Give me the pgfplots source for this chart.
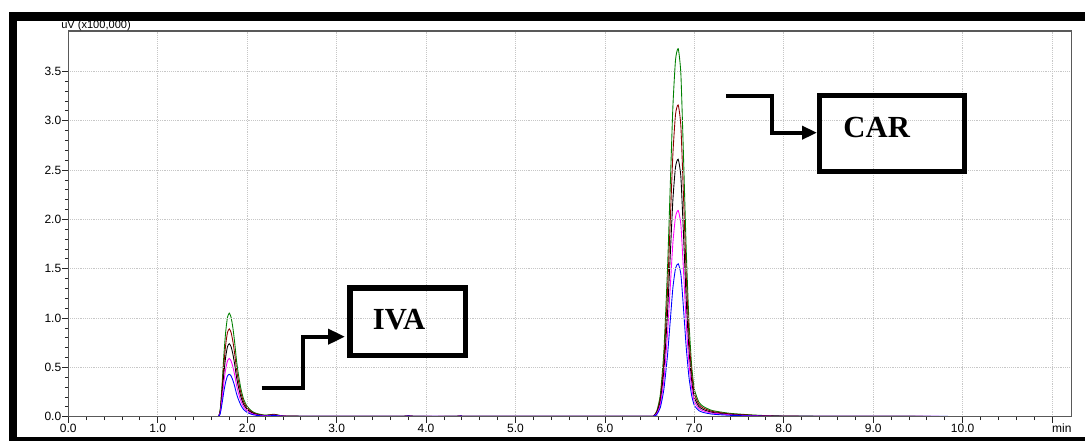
\documentclass[border=0pt]{standalone}
\usepackage{pgfplots}
\pgfplotsset{compat=1.18}
\usepackage{pgfplotstable}
\usepackage{fontspec}
\setmainfont{Liberation Sans}
\newfontfamily\serifbold{Liberation Serif}
\usetikzlibrary{arrows.meta}

\definecolor{trgreen}{RGB}{0,128,0}
\definecolor{trred}{RGB}{140,0,0}
\definecolor{trmag}{RGB}{255,0,255}
\definecolor{trblue}{RGB}{0,0,255}

% chromatogram traces, 5 concentrations (uV x100,000)
\pgfplotstableread{
t     g     r     k     m     b
0.00  0.002 0.002 0.002 0.002 0.002
1.60  0.002 0.002 0.002 0.002 0.002
1.68  0.004 0.004 0.004 0.004 0.004
1.70  0.084 0.071 0.059 0.047 0.034
1.72  0.336 0.285 0.237 0.189 0.138
1.74  0.630 0.534 0.444 0.354 0.258
1.76  0.861 0.730 0.607 0.484 0.353
1.78  1.008 0.854 0.710 0.566 0.413
1.80  1.050 0.890 0.740 0.590 0.430
1.82  1.008 0.854 0.710 0.566 0.413
1.84  0.903 0.765 0.636 0.507 0.370
1.86  0.756 0.641 0.533 0.425 0.310
1.88  0.578 0.490 0.407 0.325 0.237
1.90  0.441 0.374 0.311 0.248 0.181
1.93  0.284 0.240 0.200 0.159 0.116
1.96  0.179 0.151 0.126 0.100 0.073
2.00  0.105 0.089 0.074 0.059 0.043
2.05  0.058 0.049 0.041 0.032 0.024
2.10  0.034 0.028 0.024 0.019 0.014
2.20  0.016 0.013 0.011 0.009 0.006
2.30  0.024 0.022 0.019 0.016 0.012
2.40  0.008 0.007 0.006 0.006 0.005
2.60  0.005 0.005 0.004 0.004 0.004
3.00  0.003 0.003 0.003 0.003 0.003
3.70  0.003 0.003 0.003 0.003 0.003
3.80  0.009 0.008 0.008 0.007 0.006
3.90  0.003 0.003 0.003 0.003 0.003
4.30  0.003 0.003 0.003 0.003 0.003
4.40  0.009 0.008 0.007 0.007 0.006
4.50  0.003 0.003 0.003 0.003 0.003
6.50  0.003 0.003 0.003 0.003 0.003
6.54  0.004 0.004 0.004 0.004 0.004
6.58  0.056 0.047 0.039 0.031 0.023
6.62  0.224 0.190 0.157 0.125 0.093
6.66  0.671 0.569 0.470 0.376 0.279
6.70  1.492 1.264 1.044 0.836 0.620
6.73  2.313 1.959 1.618 1.296 0.961
6.76  3.133 2.654 2.192 1.756 1.302
6.79  3.618 3.065 2.532 2.027 1.504
6.82  3.730 3.160 2.610 2.090 1.550
6.85  3.469 2.939 2.427 1.944 1.442
6.88  2.611 2.212 1.827 1.463 1.085
6.91  1.679 1.422 1.175 0.941 0.698
6.94  0.970 0.822 0.679 0.543 0.403
6.97  0.522 0.442 0.365 0.293 0.217
7.00  0.280 0.237 0.196 0.157 0.116
7.05  0.149 0.126 0.104 0.084 0.062
7.10  0.104 0.088 0.073 0.059 0.043
7.20  0.063 0.054 0.044 0.036 0.026
7.40  0.034 0.028 0.023 0.019 0.014
7.70  0.015 0.013 0.010 0.008 0.006
8.00  0.007 0.006 0.005 0.004 0.003
9.00  0.003 0.003 0.003 0.003 0.003
11.22 0.002 0.002 0.002 0.002 0.002
}\chrom

\begin{document}
\begin{tikzpicture}
\useasboundingbox (0,0) rectangle (813.75pt,330.75pt);

\begin{axis}[
    name=ax,
    at={(51.225pt,18.225pt)}, anchor=south west,
    scale only axis,
    width=752.55pt, height=289.3pt,
    xmin=0, xmax=11.22, ymin=0, ymax=3.91,
    xtick={0,1,2,3,4,5,6,7,8,9,10,11},
    xticklabels={0.0,1.0,2.0,3.0,4.0,5.0,6.0,7.0,8.0,9.0,10.0,{}},
    ytick={0,0.5,1,1.5,2,2.5,3,3.5},
    yticklabels={0.0,0.5,1.0,1.5,2.0,2.5,3.0,3.5},
    minor x tick num=4, minor y tick num=4,
    xtick pos=bottom, ytick pos=left,
    tick align=outside,
    major tick length=4.5pt, minor tick length=2.5pt,
    grid=major,
    major grid style={densely dotted, black!22},
    axis on top,
    axis line style={black!65, line width=0.9pt},
    tick style={black!85, line width=0.55pt},
    tick label style={font=\fontsize{9}{9}\selectfont},
    yticklabel style={inner sep=0.6pt},
    xticklabel style={inner sep=1pt},
    /pgf/number format/assume math mode=true,
    every axis plot/.append style={line width=0.65pt, smooth, tension=0.35},
]
\addplot[trgreen] table[x=t, y=g] {\chrom};
\addplot[trred]   table[x=t, y=r] {\chrom};
\addplot[black]   table[x=t, y=k] {\chrom};
\addplot[trmag]   table[x=t, y=m] {\chrom};
\addplot[trblue]  table[x=t, y=b] {\chrom};
\end{axis}

\begin{scope}[x=0.75pt, y=-0.75pt, shift={(0pt,330.75pt)}]
  % axis unit and time labels
  \node[anchor=base west, inner sep=0pt, font=\fontsize{8.3}{9}\selectfont]
    at (61,28.5) {uV (x100,000)};
  \node[anchor=base east, inner sep=0pt, font=\fontsize{9}{9}\selectfont]
    at (1071.7,432.5) {min};

  % outer black frame
  \fill[black] (9,12) rectangle (1085,20.7);
  \fill[black] (9,12) rectangle (17.3,441);
  \fill[black] (9,436.7) rectangle (1085,441);

  % CAR label
  \draw[line width=3.75pt] (819.5,95.8) rectangle (964.8,171.5);
  \node[font=\serifbold\bfseries\fontsize{23}{23}\selectfont] at (876.7,128) {CAR};
  \draw[line width=3pt, -{Triangle[length=11.25pt,width=9.75pt]}]
    (726,96) -- (772.3,96) -- (772.3,132.7) -- (817,132.7);

  % IVA label
  \draw[line width=4.2pt] (350.2,287.9) rectangle (465.5,355.5);
  \node[font=\serifbold\bfseries\fontsize{23}{23}\selectfont] at (399,320) {IVA};
  \draw[line width=3pt, -{Triangle[length=12.75pt,width=11.25pt]}]
    (261.7,387.7) -- (303.3,387.7) -- (303.3,336.7) -- (345,336.7);
\end{scope}
\end{tikzpicture}
\end{document}
